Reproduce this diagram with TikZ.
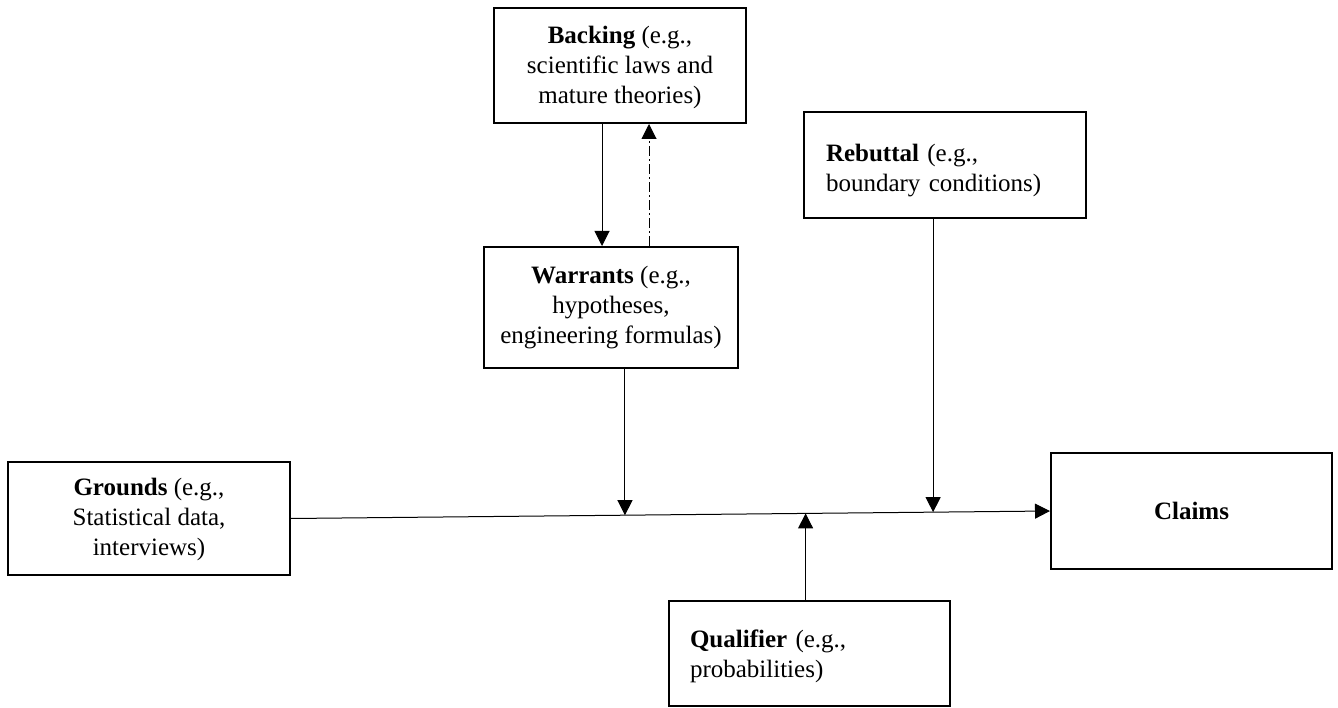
\documentclass[tikz,border=0pt]{standalone}
\usepackage{fontspec}
\setmainfont{Liberation Serif}
\usetikzlibrary{arrows.meta,calc}
\begin{document}
\begin{tikzpicture}[x=1pt,y=-1pt,
  box/.style={draw,line width=2pt,rectangle,inner sep=0pt},
  txt/.style={inner sep=0pt,font=\fontsize{25}{30}\selectfont},
  conn/.style={line width=1pt,-{Triangle[length=15pt,width=15pt]}},
  dashdot/.style={dash pattern=on 10pt off 3pt on 2pt off 3pt}]
\useasboundingbox (0,0) rectangle (1338,708);
\node[box,minimum width=252,minimum height=115] (backing) at (620,65.5) {};
\node[txt,align=center] (backingtext) at (620,67)
  {\textbf{Backing} (e.g.,\\scientific laws and\\mature theories)};
\node[box,minimum width=254,minimum height=121] (warrants) at (611,307.5) {};
\node[txt,align=center] (warrantstext) at (611,308)
  {\textbf{Warrants} (e.g.,\\hypotheses,\\engineering formulas)};
\node[box,minimum width=282,minimum height=106] (rebuttal) at (945,165) {};
\node[txt,text width=238,align=left] (rebuttaltext) at (945,171)
  {\textbf{Rebuttal} (e.g.,\\boundary conditions)};
\node[box,minimum width=282,minimum height=113] (grounds) at (149,518.5) {};
\node[txt,align=center] (groundstext) at (149,519)
  {\textbf{Grounds} (e.g.,\\Statistical data,\\interviews)};
\node[box,minimum width=281,minimum height=116] (claims) at (1191.5,511) {};
\node[txt] (claimstext) at (1191.5,511) {\textbf{Claims}};
\node[box,minimum width=281,minimum height=105] (qualifier) at (809.5,653.5) {};
\node[txt,text width=239,align=left] (qualifiertext) at (809.5,656)
  {\textbf{Qualifier} (e.g.,\\probabilities)};
\draw[conn] (grounds.east) -- (claims.west);
\coordinate (pw) at ($(grounds.east)!0.44!(claims.west)$);
\coordinate (pr) at ($(grounds.east)!0.846!(claims.west)$);
\coordinate (pq) at ($(grounds.east)!0.678!(claims.west)$);
\draw[conn] (pw |- warrants.south) -- (pw);
\draw[conn] (pr |- rebuttal.south) -- (pr);
\draw[conn] (pq |- qualifier.north) -- (pq);
\coordinate (bd) at ([xshift=-18pt]backing.south);
\coordinate (bu) at ([xshift=29pt]backing.south);
\draw[conn] (bd) -- (bd |- warrants.north);
\draw[conn,dashdot] (bu |- warrants.north) -- (bu);
\end{tikzpicture}
\end{document}
